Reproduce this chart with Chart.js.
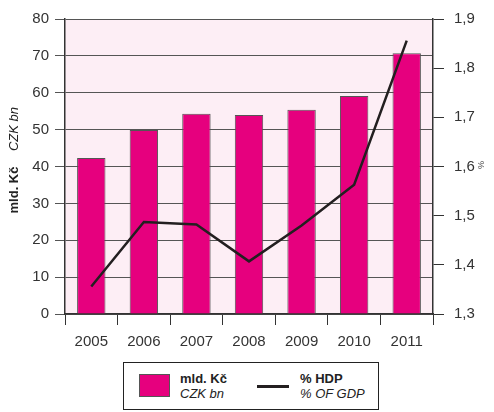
<!DOCTYPE html>
<html><head><meta charset="utf-8">
<script src="https://cdn.jsdelivr.net/npm/chart.js@4"></script>
<style>
html,body{margin:0;padding:0;background:#fff;}
#wrap{position:relative;width:494px;height:412px;font-family:"Liberation Sans",Arial,sans-serif;color:#222;}
canvas{position:absolute;left:0;top:0;}
.rot{position:absolute;white-space:nowrap;transform:translate(-50%,-50%) rotate(-90deg);font-size:13px;}
.rotcw{position:absolute;white-space:nowrap;transform:translate(-50%,-50%) rotate(90deg);font-size:9px;color:#444;}
#legend{position:absolute;left:123px;top:362px;width:254px;height:46px;border:1.5px solid #222;background:#fff;}
.sw{position:absolute;left:15px;top:11px;width:31px;height:23px;background:#e6007e;border:1px solid #555;box-sizing:border-box;}
.ln{position:absolute;left:133px;top:22px;width:32px;height:2.5px;background:#231f20;}
.lt{position:absolute;font-size:13px;line-height:15px;color:#222;}
.lt b{font-weight:bold;}
.lt i{font-style:italic;}
</style></head><body>
<div id="wrap">
<canvas id="c" width="494" height="412"></canvas>
<div class="rot" style="left:13px;top:190px;font-weight:bold;">mld. Kč</div>
<div class="rot" style="left:13px;top:129px;font-style:italic;">CZK bn</div>
<div class="rotcw" style="left:481px;top:165px;">%</div>
<div id="legend">
  <div class="sw"></div>
  <div class="lt" style="left:56px;top:8px;"><b>mld. Kč</b><br><i>CZK bn</i></div>
  <div class="ln"></div>
  <div class="lt" style="left:176px;top:8px;"><b>% HDP</b><br><i>% OF GDP</i></div>
</div>
</div>
<script>
const years = ['2005','2006','2007','2008','2009','2010','2011'];
const amountsCZKbn = [42.3, 49.9, 54.3, 54.0, 55.4, 59.1, 70.7];
const shareOfGDP = [1.356, 1.487, 1.482, 1.407, 1.480, 1.563, 1.856];

const bgPlugin = {
  id: 'bg',
  beforeDraw(chart) {
    const {ctx, chartArea: a} = chart;
    ctx.save();
    ctx.fillStyle = '#fdeef5';
    ctx.fillRect(a.left, a.top, a.right - a.left, a.bottom - a.top);
    ctx.restore();
  }
};

const tickFont = {family: '"Liberation Sans", Arial, sans-serif', size: 15};

new Chart(document.getElementById('c'), {
  data: {
    labels: years,
    datasets: [
      {
        type: 'line',
        label: '% HDP',
        data: shareOfGDP,
        yAxisID: 'y1',
        borderColor: '#231f20',
        borderWidth: 2.5,
        pointRadius: 0,
        tension: 0,
        order: 0
      },
      {
        type: 'bar',
        label: 'mld. Kč',
        data: amountsCZKbn,
        yAxisID: 'y',
        backgroundColor: '#e6007e',
        borderColor: '#555',
        borderWidth: 1,
        barPercentage: 0.54,
        categoryPercentage: 1,
        order: 1
      }
    ]
  },
  options: {
    responsive: false,
    animation: false,
    devicePixelRatio: 1,
    layout: {padding: {left: 0, right: 0, top: 12, bottom: 48}},
    plugins: {legend: {display: false}, tooltip: {enabled: false}},
    scales: {
      x: {
        offset: true,
        grid: {offset: true, drawOnChartArea: false, color: '#333', lineWidth: 1, tickLength: 11},
        border: {color: '#333', width: 1.5},
        ticks: {color: '#333', font: tickFont, padding: 8, maxRotation: 0},
        afterFit: (s) => { s.height = 50; }
      },
      y: {
        position: 'left',
        min: 0, max: 80,
        ticks: {stepSize: 10, color: '#333', font: tickFont, padding: 6},
        grid: {color: '#555', lineWidth: 1, tickLength: 10},
        border: {color: '#333', width: 1.5},
        afterFit: (s) => { s.width = 65; }
      },
      y1: {
        position: 'right',
        min: 1.3, max: 1.9,
        ticks: {
          stepSize: 0.1, color: '#333', font: tickFont, padding: 10,
          callback: (v) => v.toFixed(1).replace('.', ',')
        },
        grid: {drawOnChartArea: false, color: '#333', lineWidth: 1, tickLength: 11},
        border: {color: '#333', width: 1.5},
        afterFit: (s) => { s.width = 61; }
      }
    }
  },
  plugins: [bgPlugin]
});
</script>
</body></html>
